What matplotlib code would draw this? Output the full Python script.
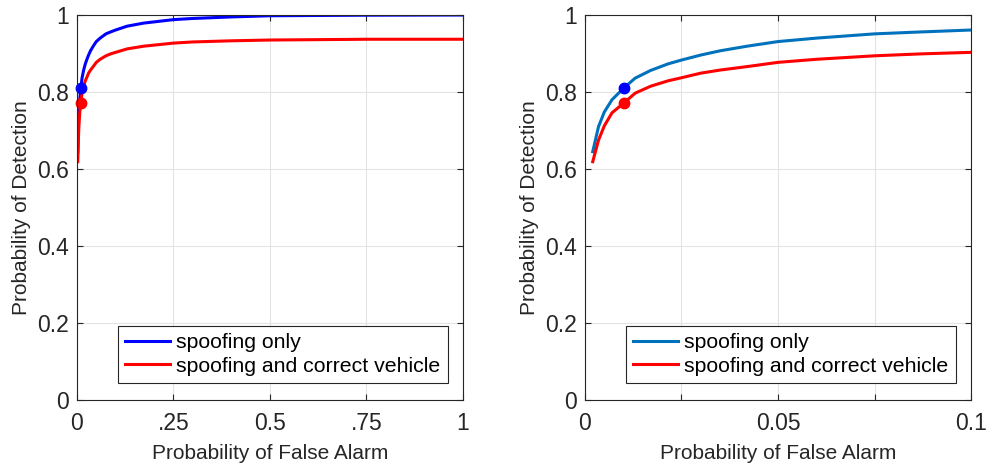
import matplotlib.pyplot as plt

plt.rcParams['font.family'] = ['Liberation Sans', 'DejaVu Sans']

# ROC curves
pfa = [0.002, 0.0035, 0.005, 0.007, 0.01, 0.013, 0.017, 0.0215, 0.025, 0.030,
       0.035, 0.042, 0.05, 0.06, 0.075, 0.087, 0.1, 0.13, 0.173, 0.25, 0.3,
       0.4, 0.5, 0.75, 1.0]
pd_spoof = [0.645, 0.710, 0.748, 0.780, 0.81, 0.836, 0.856, 0.873, 0.883, 0.896,
            0.907, 0.919, 0.931, 0.940, 0.951, 0.956, 0.961, 0.971, 0.979, 0.988,
            0.991, 0.995, 0.998, 0.9995, 1.0]
pd_vehicle = [0.619, 0.675, 0.712, 0.746, 0.771, 0.797, 0.815, 0.829, 0.837, 0.849,
              0.857, 0.866, 0.877, 0.885, 0.894, 0.899, 0.903, 0.912, 0.919, 0.927,
              0.930, 0.933, 0.935, 0.937, 0.937]

op_pfa = 0.01
op_spoof = 0.81
op_vehicle = 0.771

labels = ['spoofing only', 'spoofing and correct vehicle']
left_xticks = [0, 0.25, 0.5, 0.75, 1]
left_xticklabels = ['0', '.25', '0.5', '.75', '1']
right_xticks = [0, 0.025, 0.05, 0.075, 0.1]
right_xticklabels = ['0', '', '0.05', '', '0.1']
yticks = [0, 0.2, 0.4, 0.6, 0.8, 1]
yticklabels = ['0', '0.2', '0.4', '0.6', '0.8', '1']

W, H = 987, 468
fig = plt.figure(figsize=(W / 100, H / 100), dpi=100)

dark = '#262626'


def setup(ax, xmax, xticks, xticklabels):
    ax.set_xlim(0, xmax)
    ax.set_ylim(0, 1)
    ax.set_xticks(xticks)
    ax.set_xticklabels(xticklabels)
    ax.set_yticks(yticks)
    ax.set_yticklabels(yticklabels)
    ax.grid(True, color='#e3e3e3', linewidth=0.8)
    ax.set_axisbelow(True)
    for s in ax.spines.values():
        s.set_color(dark)
        s.set_linewidth(0.8)
    ax.tick_params(direction='in', length=4, width=0.8, top=True, right=True,
                   labelsize=16.5, colors=dark, pad=6)
    ax.tick_params(axis='x', pad=9)
    ax.set_xlabel('Probability of False Alarm', fontsize=15, color=dark, labelpad=6)
    ax.set_ylabel('Probability of Detection', fontsize=15, color=dark, labelpad=4)


ax1 = fig.add_axes([77 / W, (H - 400) / H, 386 / W, 385 / H])
ax1.plot(pfa, pd_spoof, color='#0000ff', lw=2.2, label=labels[0])
ax1.plot(pfa, pd_vehicle, color='#ff0000', lw=2.2, label=labels[1])
ax1.plot([op_pfa], [op_spoof], 'o', color='#0000ff', ms=7.5, clip_on=False)
ax1.plot([op_pfa], [op_vehicle], 'o', color='#ff0000', ms=7.5, clip_on=False)
setup(ax1, 1, left_xticks, left_xticklabels)

ax2 = fig.add_axes([585 / W, (H - 400) / H, 386 / W, 385 / H])
ax2.plot(pfa, pd_spoof, color='#0072bd', lw=2.2, label=labels[0])
ax2.plot(pfa, pd_vehicle, color='#ff0000', lw=2.2, label=labels[1])
ax2.plot([op_pfa], [op_spoof], 'o', color='#0000ff', ms=7.5)
ax2.plot([op_pfa], [op_vehicle], 'o', color='#ff0000', ms=7.5)
setup(ax2, 0.1, right_xticks, right_xticklabels)

for ax in (ax1, ax2):
    leg = ax.legend(loc='lower right', bbox_to_anchor=(0.961, 0.044), fontsize=15.3,
                    frameon=True, fancybox=False, framealpha=1, edgecolor=dark,
                    handlelength=2.1, handletextpad=0.3, borderpad=0.35,
                    labelspacing=0.2, borderaxespad=0)
    leg.get_frame().set_linewidth(0.8)

fig.savefig('out.png', dpi=100)
